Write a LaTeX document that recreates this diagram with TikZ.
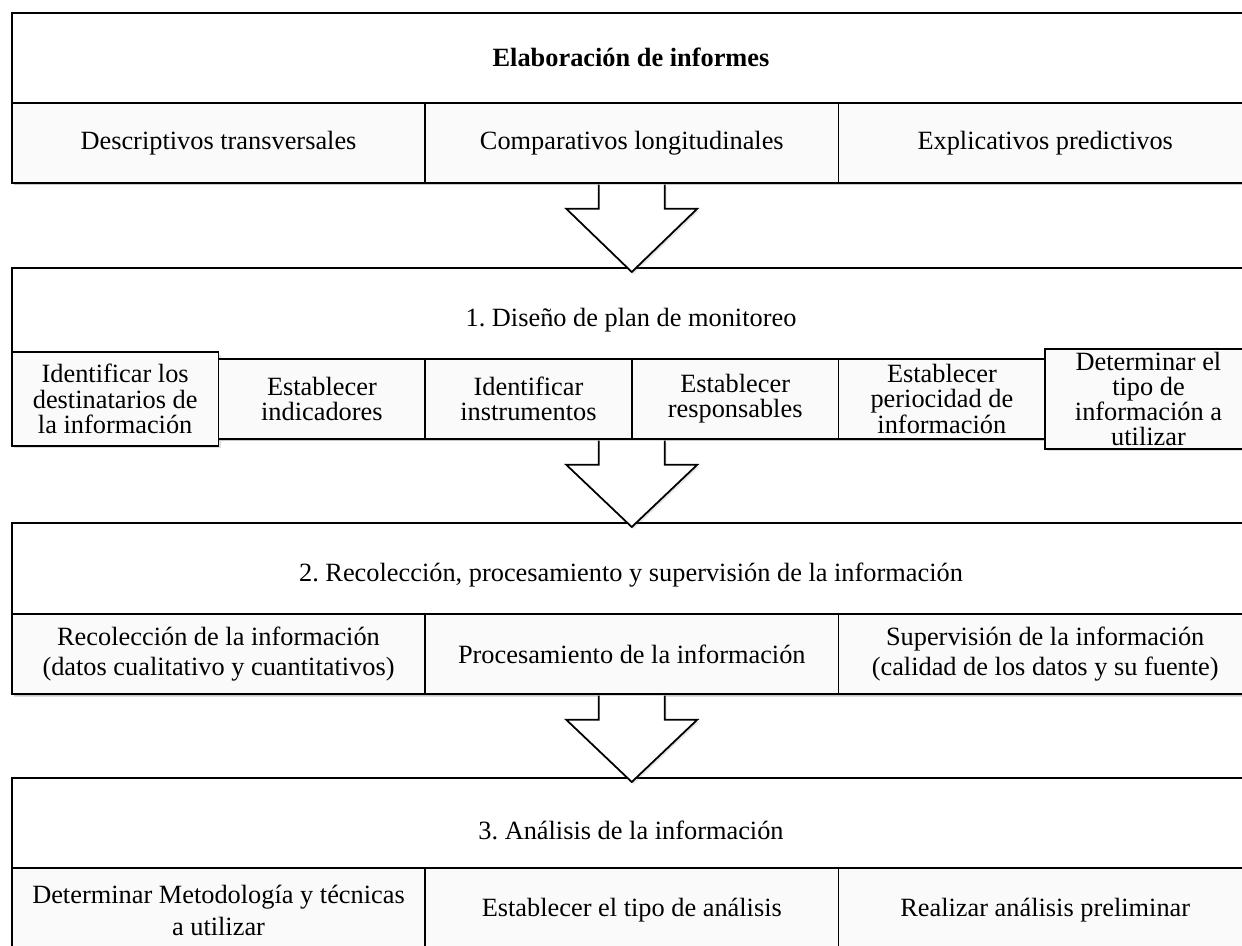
\documentclass[tikz,border=0pt]{standalone}
\usepackage{fontspec}
\setmainfont{Liberation Serif}
\usetikzlibrary{calc,shadows}
\frenchspacing

\tikzset{
  outerbox/.style={draw, line width=1pt, fill=white, anchor=north west, inner sep=0pt,
    drop shadow={shadow xshift=1.2pt, shadow yshift=-1.5pt, opacity=0.25}},
  subbox/.style={draw, line width=1pt, fill=gray!4, anchor=north west, inner sep=0pt, align=center,
    font=\fontsize{15}{17}\selectfont,
    drop shadow={shadow xshift=1.2pt, shadow yshift=-1.5pt, opacity=0.25}},
  planbox/.style={subbox, minimum width=4.133cm, font=\fontsize{15}{14.3}\selectfont},
  titletext/.style={font=\fontsize{15}{17}\selectfont, inner sep=0pt},
  blockarrow/.style={draw, line width=1pt, fill=white, line join=miter,
    drop shadow={shadow xshift=1pt, shadow yshift=-1.2pt, opacity=0.2}}
}

% block arrow from the bottom of one box to the top of the next
\newcommand{\blockdown}[2]{%
  \draw [blockarrow] ($(#1.south)+(-33,1)$) -- ($(#1.south)+(-33,25)$) -- ($(#1.south)+(-65.5,25)$)
    -- ($(#2.north)+(0,5)$) -- ($(#1.south)+(65.5,25)$) -- ($(#1.south)+(33,25)$) -- ($(#1.south)+(33,1)$);%
}

\begin{document}
\begin{tikzpicture}[x=0.02cm,y=-0.02cm]
  \useasboundingbox (0,0) rectangle (1242,946);
  \clip (0,0) rectangle (1242,946);

  % Drawing box informes
  \node [outerbox, minimum width=24.8cm, minimum height=3.4cm] (inf) at (11,12) {};
  \node [titletext, font=\fontsize{15}{17}\selectfont\bfseries] (inf-t) at (631,57) {Elaboración de informes};
  \node [subbox, minimum width=8.267cm, minimum height=1.6cm] (inf-a) at (11,102) {Descriptivos transversales};
  \node [subbox, minimum width=8.267cm, minimum height=1.6cm] (inf-b) at (424.3,102) {Comparativos longitudinales};
  \node [subbox, minimum width=8.267cm, minimum height=1.6cm] (inf-c) at (837.7,102) {Explicativos predictivos};

  % Drawing box plan
  \node [outerbox, minimum width=24.8cm, minimum height=3.42cm] (plan) at (11,267) {};
  \node [titletext] (plan-t) at (631,320) {1. Diseño de plan de monitoreo};
  \node [planbox, minimum height=1.88cm] (plan-1) at (11,351) {Identificar los\\destinatarios de\\la información};
  \node [planbox, minimum height=1.6cm] (plan-2) at (217.7,358) {Establecer\\indicadores};
  \node [planbox, minimum height=1.6cm] (plan-3) at (424.3,358) {Identificar\\instrumentos};
  \node [planbox, minimum height=1.6cm] (plan-4) at (631,358) {Establecer\\responsables};
  \node [planbox, minimum height=1.6cm] (plan-5) at (837.7,358) {Establecer\\periocidad de\\información};
  \node [planbox, minimum height=2.0cm] (plan-6) at (1044.3,348) {Determinar el\\tipo de\\información a\\utilizar};

  % Drawing box recoleccion
  \node [outerbox, minimum width=24.8cm, minimum height=3.42cm] (rec) at (11,522) {};
  \node [titletext] (rec-t) at (631,575) {2. Recolección, procesamiento y supervisión de la información};
  \node [subbox, minimum width=8.267cm, minimum height=1.6cm] (rec-1) at (11,613) {Recolección de la información\\(datos cualitativo y cuantitativos)};
  \node [subbox, minimum width=8.267cm, minimum height=1.6cm] (rec-2) at (424.3,613) {Procesamiento de la información};
  \node [subbox, minimum width=8.267cm, minimum height=1.6cm] (rec-3) at (837.7,613) {Supervisión de la información\\(calidad de los datos y su fuente)};

  % Drawing box analisis
  \node [outerbox, minimum width=24.8cm, minimum height=3.5cm] (ana) at (11,777) {};
  \node [titletext] (ana-t) at (631,830) {3. Análisis de la información};
  \node [subbox, minimum width=8.267cm, minimum height=1.7cm, font=\fontsize{15}{18}\selectfont] (ana-1) at (11,867) {Determinar Metodología y técnicas\\a utilizar};
  \node [subbox, minimum width=8.267cm, minimum height=1.7cm] (ana-2) at (424.3,867) {Establecer el tipo de análisis};
  \node [subbox, minimum width=8.267cm, minimum height=1.7cm] (ana-3) at (837.7,867) {Realizar análisis preliminar};

  % Drawing arrows
  \blockdown{inf}{plan}
  \blockdown{plan}{rec}
  \blockdown{rec}{ana}
\end{tikzpicture}
\end{document}
